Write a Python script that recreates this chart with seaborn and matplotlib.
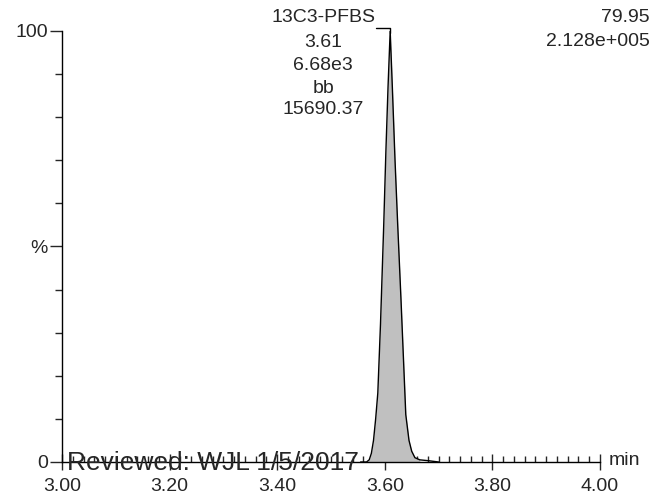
import matplotlib
matplotlib.use("Agg")
import matplotlib.pyplot as plt
import seaborn as sns
import pandas as pd
from matplotlib.ticker import MultipleLocator, FixedLocator

# ---- data ----
time_min = [3.555, 3.566, 3.571, 3.575, 3.579, 3.583, 3.587, 3.592, 3.598, 3.602,
            3.606, 3.610, 3.614, 3.619, 3.624, 3.630, 3.635, 3.639, 3.645, 3.650,
            3.656, 3.665, 3.681, 3.700]
intensity_pct = [0.0, 0.0, 0.5, 2.0, 5.0, 10.0, 16.0, 32.0, 55.0, 72.0,
                 87.0, 100.0, 87.0, 70.0, 55.0, 38.0, 23.0, 11.0, 5.0, 2.5,
                 1.0, 0.5, 0.3, 0.0]
peak_start, peak_end = 3.566, 3.665
apex_time = 3.61
peak_labels = ["13C3-PFBS", "3.61", "6.68e3", "bb", "15690.37"]
header_right = ["79.95", "2.128e+005"]
x_ticks = [3.00, 3.20, 3.40, 3.60, 3.80, 4.00]
x_ticklabels = ["3.00", "3.20", "3.40", "3.60", "3.80", "4.00"]
y_major = [0, 50, 100]
y_ticklabels = ["0", "%", "100"]
review_text = "Reviewed: WJL 1/5/2017"

df = pd.DataFrame({"t": time_min, "i": intensity_pct})

sns.set_style("ticks")
plt.rcParams["font.family"] = ["Liberation Sans", "DejaVu Sans"]

W, H = 653, 496
x0, x1, ytop, ybot = 62, 600, 31, 462
fig = plt.figure(figsize=(W / 100, H / 100), dpi=100)
ax = fig.add_axes([x0 / W, (H - ybot) / H, (x1 - x0) / W, (ybot - ytop) / H])

mask = (df["t"] >= peak_start) & (df["t"] <= peak_end)
ax.fill_between(df["t"][mask], 0, df["i"][mask], color="#c0c0c0", lw=0)
sns.lineplot(data=df, x="t", y="i", ax=ax, color="black", lw=1.0, sort=False)

ax.set_xlim(3.0, 4.0)
ax.set_ylim(0, 100)
ax.set_xlabel("")
ax.set_ylabel("")
for s in ["top", "right"]:
    ax.spines[s].set_visible(False)
for s in ["left", "bottom"]:
    ax.spines[s].set_linewidth(1.0)
    ax.spines[s].set_color("black")

ax.xaxis.set_major_locator(FixedLocator(x_ticks))
ax.set_xticklabels(x_ticklabels)
ax.xaxis.set_minor_locator(MultipleLocator(0.02))
ax.tick_params(axis="x", which="major", direction="inout", length=12, width=1.0,
               labelsize=14, pad=5.5)
ax.tick_params(axis="x", which="minor", direction="in", length=4.5, width=1.0)

ax.yaxis.set_major_locator(FixedLocator(y_major))
ax.set_yticklabels(y_ticklabels)
ax.yaxis.set_minor_locator(MultipleLocator(10))
ax.tick_params(axis="y", which="major", direction="out", length=9, width=1.0,
               labelsize=14, pad=1)
ax.tick_params(axis="y", which="minor", direction="out", length=5, width=1.0)

# peak annotation (pixel offsets relative to the apex at 100 %)
label_dx_px = -67
line_centers_px = [18, 43, 66, 89, 110]
for lab, cy in zip(peak_labels, line_centers_px):
    ax.annotate(lab, xy=(apex_time, 100), xycoords="data",
                xytext=(label_dx_px * 0.72, (ytop - cy) * 0.72),
                textcoords="offset points", ha="center", va="center",
                fontsize=14, annotation_clip=False)
ax.plot([apex_time - 0.027, apex_time, apex_time], [100.8, 100.8, 99.5],
        color="black", lw=1.0, clip_on=False)

# header right
fig.text(650 / W, 1 - 18 / H, header_right[0], ha="right", va="center", fontsize=14)
fig.text(650 / W, 1 - 42 / H, header_right[1], ha="right", va="center", fontsize=14)

# min label
ax.annotate("min", xy=(1.0, 0), xycoords="axes fraction", xytext=(6, 1),
            textcoords="offset points", ha="left", va="center", fontsize=14,
            annotation_clip=False)

# reviewed stamp
fig.text(67 / W, 1 - 470 / H, review_text, ha="left", va="baseline", fontsize=19)

fig.savefig("out.png", dpi=100)
